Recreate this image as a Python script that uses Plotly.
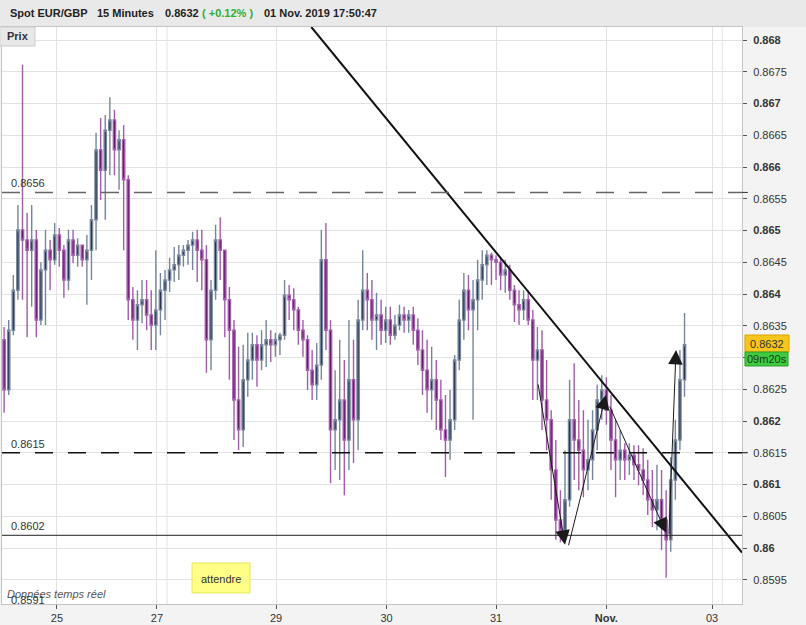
import plotly.graph_objects as go

# ---------------- data (hourly candles) ----------------
# x position = trading hours since 25 Oct 00:00 (weekend gap removed)
hours = list(range(-12, 137))

opens = [
    .86328, .86249, .86343, .86406, .86501, .86485, .86469, .86485, .86359, .86438, .86469, .86454,
    .86493, .86469, .86422, .86485, .86461, .86477, .86454, .86469, .86517, .86627, .86595, .86658,
    .86674, .86627, .86643, .86580, .86391, .86359, .86383, .86391, .86367, .86351, .86375, .86406,
    .86422, .86438, .86446, .86461, .86469, .86477, .86485, .86469, .86454, .86328, .86406, .86485,
    .86469, .86391, .86343, .86233, .86186, .86265, .86296, .86320, .86296, .86320, .86328, .86320,
    .86328, .86335, .86398, .86391, .86375, .86343, .86328, .86280, .86257, .86288, .86454, .86343,
    .86186, .86202, .86233, .86170, .86265, .86202, .86359, .86406, .86391, .86359, .86367, .86343,
    .86359, .86335, .86351, .86367, .86359, .86367, .86343, .86312, .86280, .86249, .86265, .86233,
    .86186, .86170, .86202, .86296, .86359, .86406, .86375, .86391, .86422, .86446, .86461, .86454,
    .86450, .86430, .86438, .86406, .86383, .86375, .86391, .86359, .86296, .86312, .86233, .86202,
    .86123, .86044, .86028, .86076, .86202, .86170, .86154, .86123, .86139, .86186, .86233, .86249,
    .86217, .86170, .86139, .86154, .86139, .86146, .86131, .86123, .86107, .86076, .86060, .86076,
    .86044, .86013, .86107, .86170, .86265,
]
highs = [
    .86348, .86359, .86430, .86540, .86761, .86528, .86540, .86501, .86450, .86501, .86485, .86512,
    .86504, .86477, .86501, .86501, .86488, .86477, .86493, .86540, .86654, .86677, .86682, .86710,
    .86690, .86658, .86666, .86587, .86411, .86406, .86422, .86422, .86406, .86469, .86433, .86438,
    .86457, .86474, .86477, .86477, .86485, .86498, .86501, .86501, .86477, .86422, .86509, .86521,
    .86469, .86411, .86359, .86317, .86320, .86339, .86339, .86335, .86343, .86359, .86343, .86339,
    .86339, .86422, .86414, .86409, .86380, .86359, .86335, .86312, .86323, .86501, .86512, .86359,
    .86280, .86328, .86296, .86359, .86328, .86391, .86469, .86433, .86422, .86402, .86391, .86380,
    .86380, .86367, .86383, .86380, .86375, .86380, .86362, .86343, .86328, .86317, .86296, .86265,
    .86241, .86249, .86304, .86391, .86433, .86430, .86422, .86454, .86469, .86469, .86465, .86461,
    .86457, .86454, .86446, .86414, .86406, .86406, .86406, .86375, .86348, .86343, .86296, .86217,
    .86170, .86091, .86154, .86265, .86291, .86233, .86217, .86202, .86217, .86257, .86272, .86269,
    .86241, .86202, .86186, .86165, .86165, .86162, .86162, .86157, .86139, .86123, .86131, .86123,
    .86091, .86143, .86202, .86312, .86370,
]
lows = [
    .86213, .86241, .86335, .86391, .86391, .86332, .86380, .86332, .86351, .86351, .86406, .86446,
    .86443, .86394, .86406, .86449, .86443, .86443, .86383, .86422, .86469, .86548, .86517, .86587,
    .86587, .86564, .86469, .86359, .86328, .86312, .86354, .86343, .86312, .86312, .86335, .86359,
    .86403, .86419, .86422, .86443, .86446, .86438, .86419, .86406, .86276, .86280, .86391, .86422,
    .86332, .86265, .86170, .86154, .86159, .86238, .86265, .86254, .86280, .86285, .86293, .86301,
    .86304, .86328, .86359, .86343, .86320, .86301, .86249, .86233, .86233, .86265, .86312, .86102,
    .86123, .86107, .86083, .86123, .86134, .86154, .86343, .86343, .86328, .86312, .86320, .86323,
    .86320, .86328, .86343, .86339, .86339, .86320, .86288, .86241, .86213, .86202, .86186, .86170,
    .86112, .86139, .86186, .86280, .86328, .86343, .86202, .86343, .86391, .86414, .86414, .86422,
    .86406, .86402, .86391, .86356, .86351, .86359, .86351, .86233, .86233, .86186, .86154, .86076,
    .86013, .86009, .86013, .86065, .86107, .86091, .86080, .86091, .86107, .86154, .86202, .86194,
    .86123, .86080, .86107, .86107, .86115, .86107, .86099, .86083, .86052, .86033, .86028, .85997,
    .85953, .85994, .86076, .86154, .86238,
]
closes = [
    .86249, .86343, .86406, .86501, .86485, .86469, .86485, .86359, .86438, .86469, .86454, .86493,
    .86469, .86422, .86485, .86461, .86477, .86454, .86469, .86517, .86627, .86595, .86658, .86674,
    .86627, .86643, .86580, .86391, .86359, .86383, .86391, .86367, .86351, .86375, .86406, .86422,
    .86438, .86446, .86461, .86469, .86477, .86485, .86469, .86454, .86328, .86406, .86485, .86469,
    .86391, .86343, .86233, .86186, .86265, .86296, .86320, .86296, .86320, .86328, .86320, .86328,
    .86335, .86398, .86391, .86375, .86343, .86328, .86280, .86257, .86288, .86454, .86343, .86186,
    .86202, .86233, .86170, .86265, .86202, .86359, .86406, .86391, .86359, .86367, .86343, .86359,
    .86335, .86351, .86367, .86359, .86367, .86343, .86312, .86280, .86249, .86265, .86233, .86186,
    .86170, .86202, .86296, .86359, .86406, .86375, .86391, .86422, .86446, .86461, .86454, .86450,
    .86430, .86438, .86406, .86383, .86375, .86391, .86359, .86296, .86312, .86233, .86202, .86123,
    .86044, .86028, .86076, .86202, .86170, .86154, .86123, .86139, .86186, .86233, .86249, .86217,
    .86170, .86139, .86154, .86139, .86146, .86131, .86123, .86107, .86076, .86060, .86076, .86044,
    .86013, .86107, .86170, .86265, .86320,
]

# x axis: day labels (positions in trading hours)
x_tick_pos = [0, 21.75, 47.64, 71.68, 95.5, 119.5, 142.5]
x_tick_text = ["25", "27", "29", "30", "31", "<b>Nov.</b>", "03"]
x_extra_grid = [23.93, 144.7]

# y axis: price ticks
y_tick_vals = [0.8595, 0.8600, 0.8605, 0.8610, 0.8615, 0.8620, 0.8625, 0.8630, 0.8635,
               0.8640, 0.8645, 0.8650, 0.8655, 0.8660, 0.8665, 0.8670, 0.8675, 0.8680]
y_tick_text = ["0.8595", "<b>0.86</b>", "0.8605", "<b>0.861</b>", "0.8615", "<b>0.862</b>",
               "0.8625", "", "0.8635", "<b>0.864</b>", "0.8645", "<b>0.865</b>", "0.8655",
               "<b>0.866</b>", "0.8665", "<b>0.867</b>", "0.8675", "<b>0.868</b>"]

# horizontal levels
level_values = [0.8656, 0.8615, 0.8602]
level_labels = ["0.8656", "0.8615", "0.8602"]

# trend line
trend_x = [55.32, 149.0]
trend_y = [0.868205, 0.859929]

# arrows (tail -> head)
arrow_tail_x = [104.6, 111.2, 120.1, 133.1]
arrow_tail_y = [0.86260, 0.86002, 0.86225, 0.86020]
arrow_head_x = [110.5, 119.4, 132.5, 134.65]
arrow_head_y = [0.86005, 0.86241, 0.86024, 0.86312]

last_price = 0.8632
y_min, y_max = 0.859118, 0.868205
x_min, x_max = -11.96, 149.0

FONT = "Arial, 'Liberation Sans', sans-serif"

# ---------------- figure ----------------
x_centers = [h + 0.5 for h in hours]

fig = go.Figure()
fig.add_trace(go.Candlestick(
    x=x_centers, open=opens, high=highs, low=lows, close=closes,
    increasing=dict(line=dict(color="#76869a", width=1.4), fillcolor="#1f2349"),
    decreasing=dict(line=dict(color="#a35cac", width=1.4), fillcolor="#5a0f63"),
    whiskerwidth=0, showlegend=False, hoverinfo="skip",
))
fig.add_trace(go.Scatter(
    x=trend_x, y=trend_y, mode="lines",
    line=dict(color="#111111", width=2), showlegend=False, hoverinfo="skip",
))

shapes = []
# header band
shapes.append(dict(type="rect", xref="paper", yref="paper", x0=-0.01, x1=1.1, y0=1.0, y1=1.05,
                   fillcolor="#e9e9e9", line=dict(width=0), layer="below"))
# extra vertical grid lines (day boundaries without label)
for gx in x_extra_grid:
    shapes.append(dict(type="line", xref="x", yref="paper", x0=gx, x1=gx, y0=0, y1=1,
                       line=dict(color="#e2e2e2", width=1), layer="below"))
# level lines
shapes.append(dict(type="line", xref="paper", yref="y", x0=0, x1=1,
                   y0=level_values[0], y1=level_values[0],
                   line=dict(color="#666666", width=1.5, dash="18px,15px")))
shapes.append(dict(type="line", xref="paper", yref="y", x0=0, x1=1,
                   y0=level_values[1], y1=level_values[1],
                   line=dict(color="#111111", width=1.5, dash="18px,15px")))
shapes.append(dict(type="line", xref="paper", yref="y", x0=0, x1=1,
                   y0=level_values[2], y1=level_values[2],
                   line=dict(color="#222222", width=1)))
# small axis marks for the levels
for lv in level_values[:2]:
    shapes.append(dict(type="line", xref="paper", yref="y", x0=1.0, x1=1.008, y0=lv, y1=lv,
                       line=dict(color="#333333", width=1)))
# Prix box
shapes.append(dict(type="rect", xref="paper", yref="paper", x0=-0.003, x1=0.0446, y0=0.967, y1=1.0,
                   fillcolor="#e8e8e8", line=dict(color="#cccccc", width=1)))
# attendre box
shapes.append(dict(type="rect", xref="paper", yref="paper", x0=0.2568, x1=0.3351, y0=0.0191, y1=0.0711,
                   fillcolor="#ffff88", line=dict(color="#e6e65a", width=1)))
# last price boxes
shapes.append(dict(type="rect", xref="paper", yref="paper", x0=1.004, x1=1.0635, y0=0.4367, y1=0.4662,
                   fillcolor="#f6c61c", line=dict(color="#d9a400", width=1)))
shapes.append(dict(type="rect", xref="paper", yref="paper", x0=1.004, x1=1.0622, y0=0.4125, y1=0.4367,
                   fillcolor="#3fcb3f", line=dict(color="#2aa02a", width=1)))

ann = []
def txt(text, x, y, xref="paper", yref="paper", size=11, color="#222", xanchor="left",
        yanchor="middle", yshift=0, italic=False):
    t = f"<i>{text}</i>" if italic else text
    ann.append(dict(text=t, x=x, y=y, xref=xref, yref=yref, showarrow=False,
                    xanchor=xanchor, yanchor=yanchor, yshift=yshift,
                    font=dict(family=FONT, size=size, color=color)))

def px_x(p):
    return (p - 2) / 740.0

def px_y(p):
    return (604 - p) / 577.0

# header texts
txt("<b>Spot EUR/GBP</b>", px_x(8), px_y(13.5), color="#222")
txt("<b>15 Minutes</b>", px_x(95.5), px_y(13.5), color="#222")
txt("<b>0.8632</b>", px_x(162.5), px_y(13.5), color="#222")
txt("<b>( +0.12% )</b>", px_x(199.5), px_y(13.5), color="#2fae2f")
txt("<b>01 Nov. 2019 17:50:47</b>", px_x(261.5), px_y(13.5), color="#222")
txt("<b>Prix</b>", px_x(17.5), px_y(36.5), xanchor="center", color="#333")

# level labels
for lv, lt in zip(level_values, level_labels):
    txt(lt, px_x(9), lv, yref="y", yshift=9, color="#333")

txt("Données temps réel", px_x(5), px_y(594), color="#555", italic=True)
txt("0.8591", px_x(9), px_y(600), color="#333")
txt("attendre", px_x(221), px_y(579), xanchor="center", color="#333")
txt(f"{last_price:.4f}", px_x(767), px_y(343.5), xanchor="center", color="#333")
txt("09m20s", px_x(766.5), px_y(359), xanchor="center", color="#1a3a1a")

# arrows
for tx, ty, hx, hy in zip(arrow_tail_x, arrow_tail_y, arrow_head_x, arrow_head_y):
    ann.append(dict(x=hx, y=hy, ax=tx, ay=ty, xref="x", yref="y", axref="x", ayref="y",
                    text="", showarrow=True, arrowhead=2, arrowsize=2.9, arrowwidth=1,
                    arrowcolor="#1a1a1a", standoff=0))

fig.update_layout(
    width=806, height=625,
    margin=dict(l=2, r=64, t=27, b=21, pad=0),
    paper_bgcolor="#f3f3f3", plot_bgcolor="#ffffff",
    font=dict(family=FONT, size=11, color="#333"),
    shapes=shapes, annotations=ann,
    showlegend=False,
    xaxis=dict(range=[x_min, x_max], tickvals=x_tick_pos, ticktext=x_tick_text,
               ticks="outside", ticklen=4, tickcolor="#555", gridcolor="#e2e2e2",
               showline=True, linecolor="#c4c4c4", mirror=True, zeroline=False,
               rangeslider=dict(visible=False), automargin=False,
               tickfont=dict(family=FONT, size=11, color="#333")),
    yaxis=dict(range=[y_min, y_max], side="right", tickvals=y_tick_vals, ticktext=y_tick_text,
               ticks="outside", ticklen=4, tickcolor="#555", gridcolor="#e2e2e2",
               showline=True, linecolor="#c4c4c4", mirror=True, zeroline=False,
               automargin=False, ticklabelstandoff=4,
               tickfont=dict(family=FONT, size=11, color="#333")),
)

fig.write_html("out.html")
